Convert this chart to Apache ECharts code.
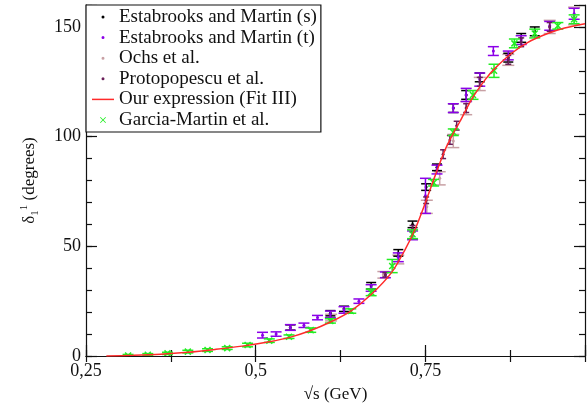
<!DOCTYPE html>
<html>
<head>
<meta charset="utf-8">
<script src="https://cdn.jsdelivr.net/npm/echarts@6/dist/echarts.min.js"></script>
<style>
  html, body { margin: 0; padding: 0; background: #fff; }
  #chart { width: 588px; height: 408px; }
</style>
</head>
<body>
<div id="chart"></div>
<script>
// data: [sqrt(s) in GeV, phase shift in degrees, error]
const estabrooksS = [
  [0.551, 13, 1.2], [0.610, 19.5, 1.2], [0.630, 21.5, 1.2], [0.670, 32, 1.5],
  [0.710, 47, 1.5], [0.731, 60, 1.5], [0.751, 77, 1.5], [0.767, 86, 1.5],
  [0.791, 113, 2], [0.810, 119, 2], [0.830, 127, 2], [0.872, 136, 2],
  [0.891, 145, 2], [0.911, 148, 2]
];
const estabrooksT = [
  [0.510, 9.5, 1.3], [0.530, 10, 1], [0.551, 13, 1.3], [0.571, 14, 1],
  [0.591, 17.5, 1], [0.610, 19, 1.5], [0.630, 21, 1.5], [0.652, 25, 1],
  [0.670, 31, 1.5], [0.691, 37, 1.3], [0.710, 45, 2], [0.731, 55, 2],
  [0.750, 73, 8], [0.767, 85, 2], [0.791, 113, 2], [0.810, 119, 3],
  [0.830, 126, 3], [0.850, 139, 2], [0.872, 137, 2], [0.891, 144, 2],
  [0.933, 150.5, 2], [0.969, 156, 2.5]
];
const ochs = [
  [0.611, 17.5, 1.5], [0.688, 37, 1.5], [0.710, 44, 2], [0.752, 68, 3],
  [0.771, 81, 3], [0.791, 98, 3], [0.810, 113, 3], [0.830, 124, 3],
  [0.872, 135, 2.5], [0.933, 150, 3], [0.969, 155, 4]
];
const protopopescu = [
  [0.691, 37, 1], [0.731, 58, 1.5], [0.751, 71, 1.5], [0.776, 92, 2],
  [0.786, 98.5, 2], [0.796, 105, 2], [0.810, 113, 2], [0.830, 125, 2],
  [0.872, 135, 2], [0.891, 143, 2], [0.933, 150, 2]
];
const garciaMartin = [
  [0.312, 0.2, 0.5], [0.341, 0.6, 0.5], [0.370, 1.2, 0.5], [0.400, 2, 0.6],
  [0.429, 2.7, 0.6], [0.458, 3.6, 0.6], [0.488, 5, 0.8], [0.520, 7, 0.8],
  [0.549, 8.8, 0.8], [0.581, 11.8, 1], [0.610, 16, 1], [0.640, 20.5, 1],
  [0.670, 29, 1.5], [0.701, 41, 3], [0.731, 55.5, 2], [0.762, 79, 1.5],
  [0.791, 102, 1.5], [0.820, 119, 2], [0.851, 130, 3], [0.881, 142.5, 2],
  [0.911, 147, 2], [0.945, 150.5, 1.5], [0.969, 153.5, 2]
];
const fitCurve = [
  [0.28, 0], [0.32, 0.3], [0.36, 0.8], [0.40, 1.7], [0.44, 3], [0.48, 4.5],
  [0.52, 6.5], [0.55, 8.5], [0.58, 11.5], [0.61, 15.5], [0.64, 20.5], [0.67, 28],
  [0.70, 38], [0.72, 48.5], [0.735, 58], [0.75, 70], [0.764, 82], [0.779, 94],
  [0.791, 101.5], [0.801, 107], [0.818, 117], [0.838, 126], [0.852, 131],
  [0.877, 138], [0.901, 143], [0.93, 147], [0.955, 149.5], [0.985, 151.5]
];
const xLabelValues = [0.25, 0.5, 0.75];
const yLabelValues = [0, 50, 100, 150];

const FONT = 'Liberation Serif';
const INK = '#111';

// error bar with caps and a small centre mark
function errorBars(color, capW, mark) {
  return function (params, api) {
    const x = api.value(0), y = api.value(1), e = api.value(2);
    const top = api.coord([x, y + e]);
    const bot = api.coord([x, y - e]);
    const mid = api.coord([x, y]);
    const h = capW / 2;
    const st = { stroke: color, lineWidth: 1.5 };
    const kids = [
      { type: 'line', shape: { x1: top[0], y1: top[1], x2: bot[0], y2: bot[1] }, style: st },
      { type: 'line', shape: { x1: top[0] - h, y1: top[1], x2: top[0] + h, y2: top[1] }, style: st },
      { type: 'line', shape: { x1: bot[0] - h, y1: bot[1], x2: bot[0] + h, y2: bot[1] }, style: st }
    ];
    if (mark === 'x') {
      const s = 3;
      kids.push({ type: 'line', shape: { x1: mid[0] - s, y1: mid[1] - s, x2: mid[0] + s, y2: mid[1] + s }, style: st });
      kids.push({ type: 'line', shape: { x1: mid[0] - s, y1: mid[1] + s, x2: mid[0] + s, y2: mid[1] - s }, style: st });
    } else {
      kids.push({ type: 'circle', shape: { cx: mid[0], cy: mid[1], r: 1.5 }, style: { fill: color } });
    }
    return { type: 'group', children: kids };
  };
}

function errSeries(name, data, color, capW, mark) {
  return {
    name: name,
    type: 'custom',
    data: data,
    encode: { x: 0, y: 1 },
    itemStyle: { color: color },
    renderItem: errorBars(color, capW, mark),
    clip: true
  };
}

const chart = echarts.init(document.getElementById('chart'));

const axisLine = { show: true, lineStyle: { color: INK, width: 1.2 } };
const labelStyle = { fontFamily: FONT, fontSize: 18, color: INK };

const option = {
  backgroundColor: '#fff',
  animation: false,
  grid: { left: 86, right: 1, top: 5, bottom: 51 },
  legend: {
    orient: 'vertical',
    left: 86,
    top: 5,
    padding: [2.5, 4, 2.5, 6],
    itemGap: 1.6,
    itemWidth: 22,
    itemHeight: 6,
    backgroundColor: '#fff',
    borderColor: INK,
    borderWidth: 1.2,
    textStyle: { fontFamily: FONT, fontSize: 19, color: INK },
    data: [
      { name: 'Estabrooks and Martin (s)', icon: 'circle', itemStyle: { color: '#000', borderColor: '#fff', borderWidth: 3 } },
      { name: 'Estabrooks and Martin (t)', icon: 'circle', itemStyle: { color: '#8b00e8', borderColor: '#fff', borderWidth: 3 } },
      { name: 'Ochs et al.', icon: 'circle', itemStyle: { color: '#c8a0a4', borderColor: '#fff', borderWidth: 3 } },
      { name: 'Protopopescu et al.', icon: 'circle', itemStyle: { color: '#6a1f5a', borderColor: '#fff', borderWidth: 3 } },
      { name: 'Our expression (Fit III)', icon: 'path://M0,0L22,0L22,1.5L0,1.5Z', itemStyle: { color: '#ff2a2a' } },
      { name: 'Garcia-Martin et al.', icon: 'path://M0,1L1,0L5,4L9,0L10,1L6,5L10,9L9,10L5,6L1,10L0,9L4,5Z', itemStyle: { color: '#22ee22' } }
    ]
  },
  xAxis: [
    {
      type: 'value', position: 'bottom', min: 0.25, max: 0.985, interval: 0.25,
      axisLine: axisLine,
      axisTick: { inside: true, length: 11, lineStyle: { color: INK, width: 1.2 } },
      splitLine: { show: false },
      axisLabel: Object.assign({
        margin: 6,
        formatter: function (v) {
          const hit = xLabelValues.find(function (t) { return Math.abs(t - v) < 1e-6; });
          return hit === undefined ? '' : String(hit).replace('.', ',');
        }
      }, labelStyle),
      name: '\u221As (GeV)',
      nameLocation: 'middle',
      nameGap: 30,
      nameTextStyle: { fontFamily: FONT, fontSize: 17, color: INK }
    },
    {
      type: 'value', position: 'bottom', min: 0.25, max: 0.985, interval: 0.125,
      axisLine: { show: false },
      axisTick: { inside: true, length: 6, lineStyle: { color: INK, width: 1.2 } },
      axisLabel: { show: false }, splitLine: { show: false }
    },
    {
      type: 'value', position: 'top', min: 0.25, max: 0.985, interval: 0.125,
      axisLine: axisLine,
      axisTick: { inside: true, length: 6, lineStyle: { color: INK, width: 1.2 } },
      axisLabel: { show: false }, splitLine: { show: false }
    }
  ],
  yAxis: [
    {
      type: 'value', position: 'left', min: 0, max: 160, interval: 50,
      axisLine: axisLine,
      axisTick: { inside: true, length: 11, lineStyle: { color: INK, width: 1.2 } },
      splitLine: { show: false },
      axisLabel: Object.assign({
        margin: 5,
        formatter: function (v) { return yLabelValues.indexOf(v) >= 0 ? String(v) : ''; }
      }, labelStyle),
      name: '\u03b4{sub|1}{sup|1} (degrees)',
      nameLocation: 'middle',
      nameRotate: 90,
      nameGap: 45,
      nameTextStyle: {
        fontFamily: FONT, fontSize: 17, color: INK,
        rich: {
          sub: { fontFamily: FONT, fontSize: 11, color: INK, verticalAlign: 'bottom', lineHeight: 22 },
          sup: { fontFamily: FONT, fontSize: 11, color: INK, verticalAlign: 'top', lineHeight: 22 }
        }
      }
    },
    {
      type: 'value', position: 'left', min: 0, max: 160, interval: 10,
      axisLine: { show: false },
      axisTick: { inside: true, length: 6, lineStyle: { color: INK, width: 1.2 } },
      axisLabel: { show: false }, splitLine: { show: false }
    },
    {
      type: 'value', position: 'right', min: 0, max: 160, interval: 50,
      axisLine: axisLine,
      axisTick: { inside: true, length: 11, lineStyle: { color: INK, width: 1.2 } },
      axisLabel: { show: false }, splitLine: { show: false }
    },
    {
      type: 'value', position: 'right', min: 0, max: 160, interval: 10,
      axisLine: { show: false },
      axisTick: { inside: true, length: 6, lineStyle: { color: INK, width: 1.2 } },
      axisLabel: { show: false }, splitLine: { show: false }
    }
  ],
  series: [
    errSeries('Ochs et al.', ochs, '#c8a0a4', 12),
    errSeries('Estabrooks and Martin (s)', estabrooksS, '#000', 10),
    errSeries('Estabrooks and Martin (t)', estabrooksT, '#8b00e8', 11),
    errSeries('Protopopescu et al.', protopopescu, '#6a1f5a', 6),
    errSeries('Garcia-Martin et al.', garciaMartin, '#22ee22', 11, 'x'),
    {
      name: 'Our expression (Fit III)',
      type: 'line',
      data: fitCurve,
      smooth: 0.3,
      symbol: 'none',
      lineStyle: { color: '#ff2a2a', width: 1.5 },
      itemStyle: { color: '#ff2a2a' },
      z: 3
    }
  ]
};

chart.setOption(option);
</script>
</body>
</html>
